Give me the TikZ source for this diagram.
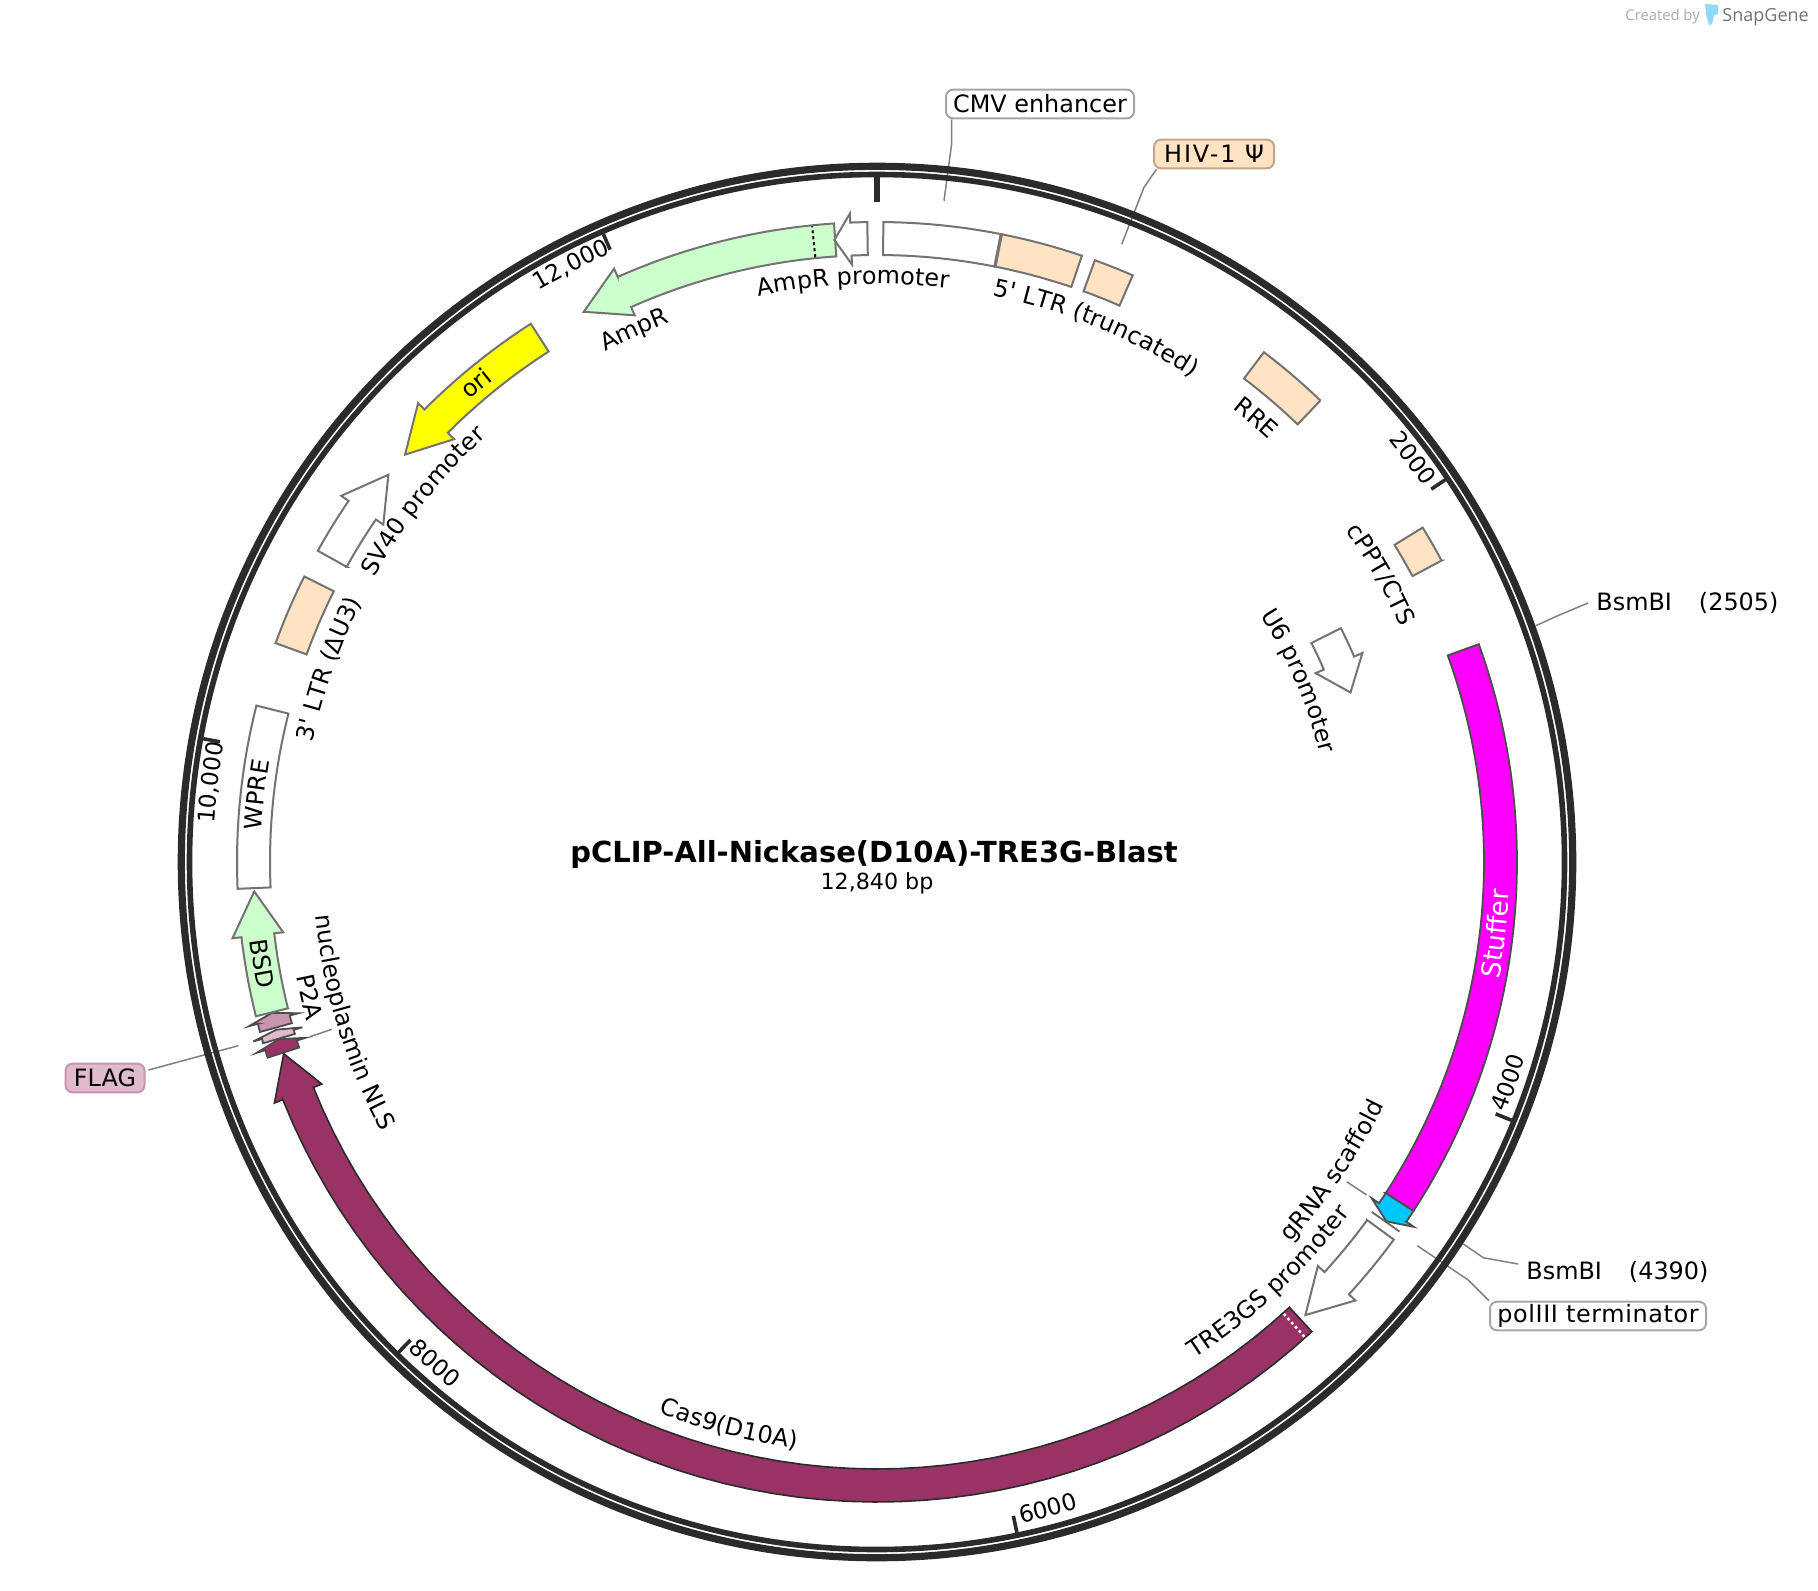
\documentclass[tikz,border=0pt]{standalone}
\usepackage{fontspec}
\usetikzlibrary{decorations.text}
\setmainfont{DejaVu Sans}[Ligatures=TeXOff]
\newfontfamily\osans{Open Sans}
\newcommand{\lblfont}{\fontsize{11.95}{14}\selectfont}
\newcommand{\tickfont}{\fontsize{11.6}{14}\selectfont}
\newcommand{\stufffont}{\fontsize{13.2}{15}\selectfont}
\definecolor{ringc}{HTML}{2B2B2B}
\definecolor{ltgreen}{HTML}{CCFFCC}
\definecolor{peach}{HTML}{FFE3C2}
\definecolor{maroon}{HTML}{993366}
\definecolor{cyanf}{HTML}{00C8FF}
\definecolor{flagc}{HTML}{E0BBCC}
\definecolor{ptwoa}{HTML}{C994AF}
\definecolor{magentaf}{RGB}{255,0,255}
\definecolor{yellowf}{RGB}{255,255,0}
\tikzset{
  lightfeat/.style={draw=black!55,line width=1pt,line join=miter},
  darkfeat/.style={draw=ringc,line width=.8pt,line join=miter},
  midfeat/.style={draw=black!70,line width=.9pt,line join=miter},
  leader/.style={draw=black!50,line width=.75pt},
  tickmark/.style={draw=ringc,line width=1.8pt},
  maptext/.style={font=\lblfont,text=black},
  boxlabel/.style={maptext,rounded corners=3.5pt,line width=1pt,inner sep=0pt,minimum height=14.3pt},
}
% polar helper: angle clockwise from top, radius in pixels
\newcommand{\PP}[2]{({877+(#2)*sin(#1)},{862-(#2)*cos(#1)})}
% band [style]{a}{b}{r in}{r out}
\newcommand{\band}[5][]{%
  \path[#1] plot[domain=#2:#3,samples=50] ({877+#5*sin(\x)},{862-#5*cos(\x)})
    -- \PP{#3}{#5} -- \PP{#3}{#4}
    -- plot[domain=#3:#2,samples=50] ({877+#4*sin(\x)},{862-#4*cos(\x)})
    -- \PP{#2}{#4} -- cycle;}
% arrow [style]{tail}{neck}{tip}{mid}: half width 16.5, wings 25.5
\newcommand{\arrowfeat}[5][]{%
  \pgfmathsetmacro\rO{#5+16.5}\pgfmathsetmacro\rI{#5-16.5}%
  \pgfmathsetmacro\wO{#5+25.5}\pgfmathsetmacro\wI{#5-25.5}%
  \path[#1] plot[domain=#2:#3,samples=50] ({877+\rO*sin(\x)},{862-\rO*cos(\x)})
    -- \PP{#3}{\rO} -- \PP{#3}{\wO} -- \PP{#4}{#5} -- \PP{#3}{\wI} -- \PP{#3}{\rI}
    -- plot[domain=#3:#2,samples=50] ({877+\rI*sin(\x)},{862-\rI*cos(\x)})
    -- \PP{#2}{\rI} -- cycle;}
% curved text: clockwise, tops outward / counter-clockwise, tops inward
\newcommand{\cwtext}[4][]{%
  \pgfmathsetmacro\lo{#2-40}\pgfmathsetmacro\hi{#2+40}%
  \path[decorate,decoration={text along path,text={|\lblfont#1|#4},text align=center}]
    plot[domain=\lo:\hi,samples=81] ({877+#3*sin(\x)},{862-#3*cos(\x)});}
\newcommand{\ccwtext}[4][]{%
  \pgfmathsetmacro\lo{#2-40}\pgfmathsetmacro\hi{#2+40}%
  \path[decorate,decoration={text along path,text={|\lblfont#1|#4},text align=center}]
    plot[domain=\hi:\lo,samples=81] ({877+#3*sin(\x)},{862-#3*cos(\x)});}
\begin{document}
\begin{tikzpicture}[x=0.5pt,y=-0.5pt]
\useasboundingbox (0,0) rectangle (1818,1590);
\fill[white] (0,0) rectangle (1818,1590);

% label nodes
\node[boxlabel,draw=black!35,fill=white,minimum width=94pt] (cmv) at (1040,104) {CMV enhancer};
\node[boxlabel,draw=brown!60!gray!70,fill=peach,minimum width=60pt] (hiv) at (1214,154) {\addfontfeature{LetterSpace=8}HIV-1 Ψ};
\node[boxlabel,draw=black!35,fill=white,minimum width=108pt] (pol) at (1598,1316) {\addfontfeature{LetterSpace=2.5}polIII terminator};
\node[boxlabel,draw=ptwoa,fill=flagc,minimum width=39.5pt,text width=34pt,align=center] (flag) at (105,1078) {FLAG};
\node[maptext,anchor=west,inner sep=4pt] (bsmA) at (1588,603) {BsmBI\hspace{13.5pt}(2505)};
\node[maptext,anchor=west,inner sep=4pt] (bsmB) at (1518,1272) {BsmBI\hspace{13.5pt}(4390)};

% leader coordinates
\coordinate (cmvB) at (951.7,143.3);  \coordinate (cmvE) at (944,200.7);
\coordinate (hivB) at (1144,187.3);   \coordinate (hivE) at (1121.7,244.3);
\coordinate (bsmAB) at (1559.4,615);  \coordinate (bsmAE) at (1535.7,625.7);
\coordinate (bsmBB) at (1483.3,1257.7); \coordinate (bsmBE) at (1463.3,1244);
\coordinate (polB) at (1468.3,1280);  \coordinate (polE) at (1417.3,1245.7);
\coordinate (grnaS) at (1346.7,1181.7); \coordinate (grnaE) at (1366.7,1195);
\coordinate (flagE) at (238.3,1045.7);
\coordinate (nlsS) at (331.7,1029.3); \coordinate (nlsE) at (310,1036.7);

\draw[leader] ([xshift=3.3pt]cmv.south west) -- (cmvB) -- (cmvE);
\draw[leader] ([xshift=1.7pt]hiv.south west) -- (hivB) -- (hivE);
\draw[leader] (bsmA.west) -- (bsmAB) -- (bsmAE);
\draw[leader] ([yshift=4pt]bsmB.west) -- (bsmBB) -- (bsmBE);
\draw[leader] (pol.north west) -- (polB) -- (polE);
\draw[leader] (grnaS) -- (grnaE);
\draw[leader] ([xshift=1.5pt,yshift=4pt]flag.east) -- (flagE);
\draw[leader] (nlsS) -- (nlsE);

% backbone
\draw[ringc,line width=3.6pt] (877,862) circle[radius=695.7];
\draw[ringc,line width=2.8pt] (877,862) circle[radius=687.5];
% ticks
\draw[tickmark,line width=2.8pt] \PP{0}{685} -- \PP{0}{660};
\foreach \a in {56.07,112.15,168.22,224.3,280.37,336.45}
  \draw[tickmark] \PP{\a}{685} -- \PP{\a}{668};
\cwtext[\tickfont]{53}{663}{2000}
\ccwtext[\tickfont]{109.25}{677}{4000}
\ccwtext[\tickfont]{165.2}{677}{6000}
\ccwtext[\tickfont]{221.4}{677}{8000}
\cwtext[\tickfont]{276.8}{664}{10,000}
\cwtext[\tickfont]{332.9}{664}{12,000}

% features
\band[lightfeat,fill=white]{0.57}{11.2}{607}{640}
\band[lightfeat,fill=peach]{11.2}{18.67}{607}{640}
\draw[draw=black!55,line width=1.6pt] \PP{11.2}{607} -- \PP{11.2}{640};
\band[lightfeat,fill=peach]{19.9}{23.55}{607}{640}
\band[lightfeat,fill=peach]{37.2}{43.86}{607}{640}
\band[lightfeat,fill=peach]{58.5}{61.9}{607}{640}
\arrowfeat[lightfeat,fill=white]{63.25}{66.7}{70.3}{503}
\band[midfeat,fill=magentaf]{70.1}{123.05}{607}{640}
\arrowfeat[midfeat,fill=cyanf]{123.05}{124.2}{125.2}{623.5}
\draw[draw=black!60,line width=.9pt] \PP{125.27}{606} -- \PP{125.27}{640};
\arrowfeat[lightfeat,fill=white]{126.15}{132.5}{136.6}{623.5}
\arrowfeat[darkfeat,fill=maroon]{137.2}{248.2}{252.1}{623.5}
\draw[white,line width=1.25pt,dash pattern=on 1.4pt off 1.4pt] \PP{138}{608} -- \PP{138}{639};
\arrowfeat[midfeat,fill=maroon]{252.2}{252.9}{253.5}{623.5}
\arrowfeat[midfeat,fill=flagc]{253.55}{253.95}{254.4}{623.5}
\arrowfeat[midfeat,fill=ptwoa]{254.6}{255.35}{256}{623.5}
\arrowfeat[lightfeat,fill=ltgreen]{256.05}{263.25}{267.3}{623.5}
\band[lightfeat,fill=white]{267.6}{284.15}{607}{640}
\band[lightfeat,fill=peach]{290}{296.5}{607}{640}
\arrowfeat[lightfeat,fill=white]{299.1}{304.35}{308.4}{623.5}
\arrowfeat[lightfeat,fill=yellowf]{327.25}{315}{310.8}{623.5}
\arrowfeat[lightfeat,fill=ltgreen]{356.15}{336.1}{331.94}{623.5}
\draw[black,line width=1pt,dash pattern=on 1.5pt off 1.5pt] \PP{354.17}{608} -- \PP{354.17}{639};
\arrowfeat[lightfeat,fill=white]{359.13}{357.6}{356.08}{623.5}

% feature labels
\cwtext{-2.35}{578}{AmpR promoter}
\cwtext{22.3}{578}{5' LTR (truncated)}
\cwtext{40.5}{576}{RRE}
\cwtext{60.3}{574}{cPPT/CTS}
\cwtext{66.75}{456}{U6 promoter}
\ccwtext[\stufffont\color{white}]{96.6}{633}{Stuffer}
\ccwtext{124.1}{562}{gRNA scaffold}
\ccwtext{137}{589}{TRE3GS promoter}
\ccwtext{194.7}{592}{Cas9(D10A)}
\ccwtext{253}{564}{nucleoplasmin NLS}
\ccwtext{256.6}{592}{P2A}
\ccwtext{260.6}{632}{BSD}
\cwtext{276.2}{616}{WPRE}
\cwtext{289.4}{577}{3' LTR (ΔU3)}
\cwtext{308.5}{578}{SV40 promoter}
\cwtext{320.05}{616}{ori}
\cwtext{335.5}{578}{AmpR}

% title
\node[font=\fontsize{14.5}{17}\selectfont\bfseries,inner sep=0pt] (title) at (874,854) {pCLIP-All-Nickase(D10A)-TRE3G-Blast};
\node[font=\fontsize{11.1}{13}\selectfont,inner sep=0pt] (sub) at (877,883) {12,840 bp};

% credit
\node[font=\osans\fontsize{7.4}{9}\selectfont,text=black!33,anchor=west,inner sep=0pt] (made) at (1625,17) {Created by};
\fill[cyan!45] (1705,4) -- (1718,5) -- (1718,14) -- (1714,15) -- (1712,24) -- (1709,25) -- (1706,14) -- cycle;
\node[font=\osans\fontsize{9}{11}\selectfont,text=black!55,anchor=west,inner sep=0pt] (brand) at (1722,17) {SnapGene};
\end{tikzpicture}
\end{document}
